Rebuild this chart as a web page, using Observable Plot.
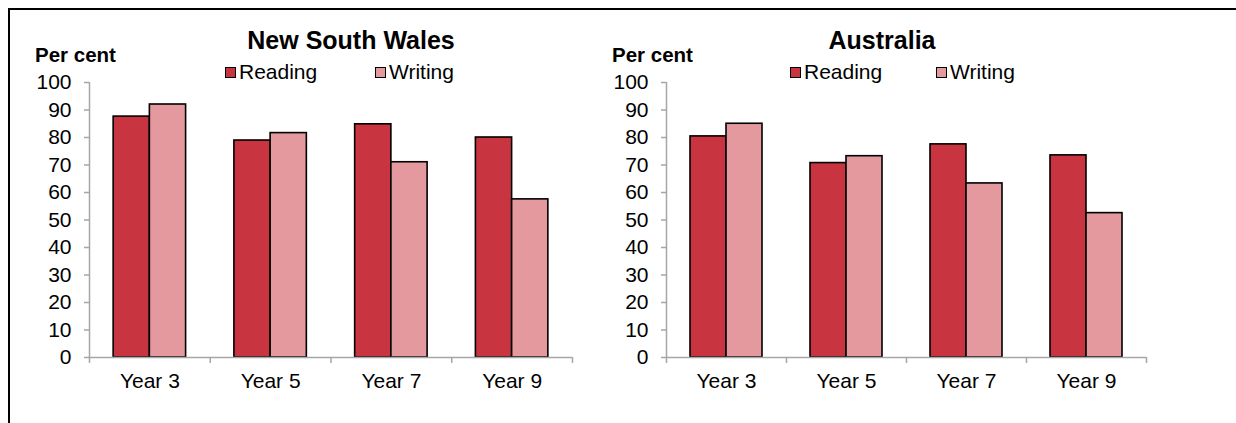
<!DOCTYPE html>
<html>
<head>
<meta charset="utf-8">
<script src="https://cdn.jsdelivr.net/npm/d3@7"></script>
<script src="https://cdn.jsdelivr.net/npm/@observablehq/plot@0.6"></script>
<style>
  html, body { margin: 0; padding: 0; background: #fff; overflow: hidden; }
  #wrap { position: relative; width: 1236px; height: 423px; font-family: "Liberation Sans", Arial, sans-serif; color: #000; }
  .abs { position: absolute; white-space: nowrap; line-height: 1; }
  .title { font-weight: bold; font-size: 25px; transform: translateX(-50%); }
  .ylab { font-weight: bold; font-size: 20.5px; }
  .leg { font-size: 21px; }
  .sw { display: inline-block; width: 9px; height: 9px; border: 1.5px solid #000; margin-right: 3px; vertical-align: 1px; }
  #frame { position: absolute; left: 8px; top: 8px; width: 1240px; height: 430px; border-top: 2px solid #000; border-left: 2px solid #000; z-index: 5; pointer-events: none; }
  .chart { position: absolute; top: 0; }
</style>
</head>
<body>
<div id="wrap">
  <div id="frame"></div>
</div>
<script>
// ---- data ----
const years = ["Year 3", "Year 5", "Year 7", "Year 9"];
const seriesNames = ["Reading", "Writing"];
const nswReading = [87.6, 78.9, 84.8, 80.0];
const nswWriting = [92.0, 81.6, 71.0, 57.5];
const ausReading = [80.4, 70.7, 77.5, 73.5];
const ausWriting = [85.0, 73.2, 63.3, 52.5];
const yTicks = [0, 10, 20, 30, 40, 50, 60, 70, 80, 90, 100];
const panelTitles = ["New South Wales", "Australia"];
const yLabel = "Per cent";

// ---- style ----
const colors = ["#C8343F", "#E3999D"];
const axisGray = "#a6a6a6";

function chart(reading, writing, marginRight) {
  const rows = years.flatMap((y, i) => [
    {i, s: seriesNames[0], v: reading[i]},
    {i, s: seriesNames[1], v: writing[i]}
  ]);
  return Plot.plot({
    width: 610,
    height: 423,
    marginLeft: 89,
    marginRight,
    marginTop: 82,
    marginBottom: 66,
    style: {background: "none", fontFamily: "'Liberation Sans', Arial, sans-serif", fontSize: "21px", color: "#000"},
    x: {domain: [0, 4], axis: null},
    y: {domain: [0, 100], axis: null},
    color: {domain: seriesNames, range: colors},
    marks: [
      Plot.rectY(rows, {
        x1: d => d.i + (d.s === seriesNames[0] ? 0.2 : 0.5),
        x2: d => d.i + (d.s === seriesNames[0] ? 0.5 : 0.8),
        y1: 0,
        y2: "v",
        fill: "s",
        stroke: "#000",
        strokeWidth: 1.6
      }),
      Plot.ruleX([0], {stroke: axisGray, strokeWidth: 1.5}),
      Plot.ruleY([0], {stroke: axisGray, strokeWidth: 1.5}),
      Plot.axisY({ticks: yTicks, label: null, tickSize: 5, tickPadding: 13, stroke: axisGray, strokeOpacity: 1, strokeWidth: 1.5, fill: "#000", fontSize: 21}),
      Plot.axisX({ticks: [0, 1, 2, 3, 4], label: null, tickSize: 6, tickFormat: () => "", stroke: axisGray, strokeOpacity: 1, strokeWidth: 1.5}),
      Plot.axisX({ticks: years.map((_, i) => i + 0.5), label: null, tickSize: 0, tickPadding: 16, tickFormat: t => years[Math.floor(t)], fill: "#000", fontSize: 21})
    ]
  });
}

const wrap = document.getElementById("wrap");

function addText(cls, text, left, top) {
  const d = document.createElement("div");
  d.className = "abs " + cls;
  d.textContent = text;
  d.style.left = left + "px";
  d.style.top = top + "px";
  wrap.appendChild(d);
  return d;
}
function addLegendItem(name, color, left, top) {
  const d = document.createElement("div");
  d.className = "abs leg";
  d.style.left = left + "px";
  d.style.top = top + "px";
  const sw = document.createElement("span");
  sw.className = "sw";
  sw.style.background = color;
  d.appendChild(sw);
  d.appendChild(document.createTextNode(name));
  wrap.appendChild(d);
}

const panels = [
  {reading: nswReading, writing: nswWriting, left: 0, mr: 38, titleX: 351, ylabX: 35, legX: [225, 375]},
  {reading: ausReading, writing: ausWriting, left: 577, mr: 41, titleX: 882, ylabX: 612, legX: [790, 936]}
];

panels.forEach((p, k) => {
  const svg = chart(p.reading, p.writing, p.mr);
  svg.classList.add("chart");
  svg.style.position = "absolute";
  svg.style.left = p.left + "px";
  svg.style.top = "0px";
  wrap.appendChild(svg);
  addText("title", panelTitles[k], p.titleX, 28);
  addText("ylab", yLabel, p.ylabX, 45);
  seriesNames.forEach((s, j) => addLegendItem(s, colors[j], p.legX[j], 61));
});
</script>
</body>
</html>
